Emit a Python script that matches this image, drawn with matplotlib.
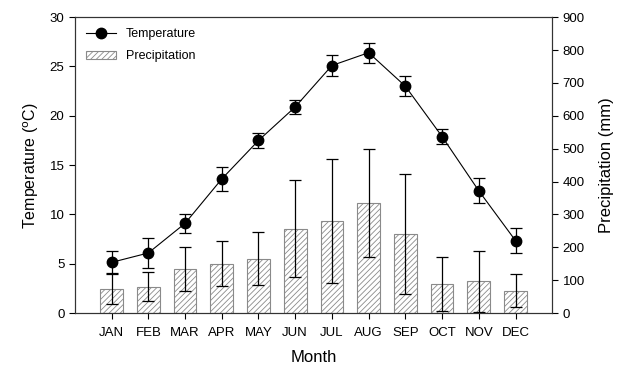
import numpy as np
import matplotlib
matplotlib.use('Agg')
import matplotlib.pyplot as plt
from matplotlib.lines import Line2D

plt.rcParams['font.family'] = ['Liberation Sans', 'DejaVu Sans']
plt.rcParams['hatch.linewidth'] = 0.6
plt.rcParams['hatch.color'] = '#707070'

months = ['JAN', 'FEB', 'MAR', 'APR', 'MAY', 'JUN',
          'JUL', 'AUG', 'SEP', 'OCT', 'NOV', 'DEC']
temp = [5.15, 6.1, 9.1, 13.6, 17.5, 20.9, 25.1, 26.4, 23.0, 17.9, 12.4, 7.35]
temp_err = [1.2, 1.5, 1.0, 1.2, 0.8, 0.7, 1.05, 1.0, 1.0, 0.8, 1.25, 1.3]
precip = [75, 81, 134, 151, 166, 257, 280, 335, 240, 90, 97, 68]
precip_err = [48, 45, 68, 68, 81, 147, 188, 165, 183, 82, 93, 50]

x = np.arange(len(months))

fig = plt.figure(figsize=(6.24, 3.65), dpi=100)
ax = fig.add_axes([0.120, 0.142, 0.765, 0.811])
ax2 = ax.twinx()

# batang hujan di sumbu kanan
bars = ax2.bar(x, precip, width=0.62, color='white', edgecolor='#8a8a8a',
               linewidth=0.8, hatch='//////', label='Precipitation')
ax2.errorbar(x, precip, yerr=precip_err, fmt='none', ecolor='black',
             elinewidth=0.9, capsize=4, capthick=0.9)

# suhu di sumbu kiri, digambar di atas batang
ax.set_zorder(ax2.get_zorder() + 1)
ax.patch.set_visible(False)
ax.errorbar(x, temp, yerr=temp_err, fmt='-o', color='black',
            lw=0.8, ms=7.5, elinewidth=0.9, capsize=4, capthick=0.9)

ax.set_xlim(-1, 12)
ax.set_ylim(0, 30)
ax2.set_ylim(0, 900)
ax.set_yticks(range(0, 31, 5))
ax2.set_yticks(range(0, 901, 100))
ax.set_xticks(x)
ax.set_xticklabels(months)

ax.tick_params(labelsize=9.5, length=4, width=0.8)
ax2.tick_params(labelsize=9.5, length=4, width=0.8)
ax.tick_params(axis='x', pad=6)

ax.set_xlabel('Month', fontsize=12, labelpad=8)
ax.set_ylabel('Temperature ($^{\\mathrm{o}}$C)', fontsize=11.5, labelpad=6)
ax2.set_ylabel('Precipitation (mm)', fontsize=12, labelpad=10)

for a in (ax, ax2):
    for s in a.spines.values():
        s.set_linewidth(0.8)
        s.set_color('#333333')

temp_handle = Line2D([], [], color='black', lw=0.8, marker='o', ms=7.5)
ax.legend([temp_handle, bars], ['Temperature', 'Precipitation'],
          loc='upper left', frameon=False, fontsize=9, handlelength=2.4,
          borderaxespad=0.5, labelspacing=0.8)

fig.savefig('out.png', dpi=100)
